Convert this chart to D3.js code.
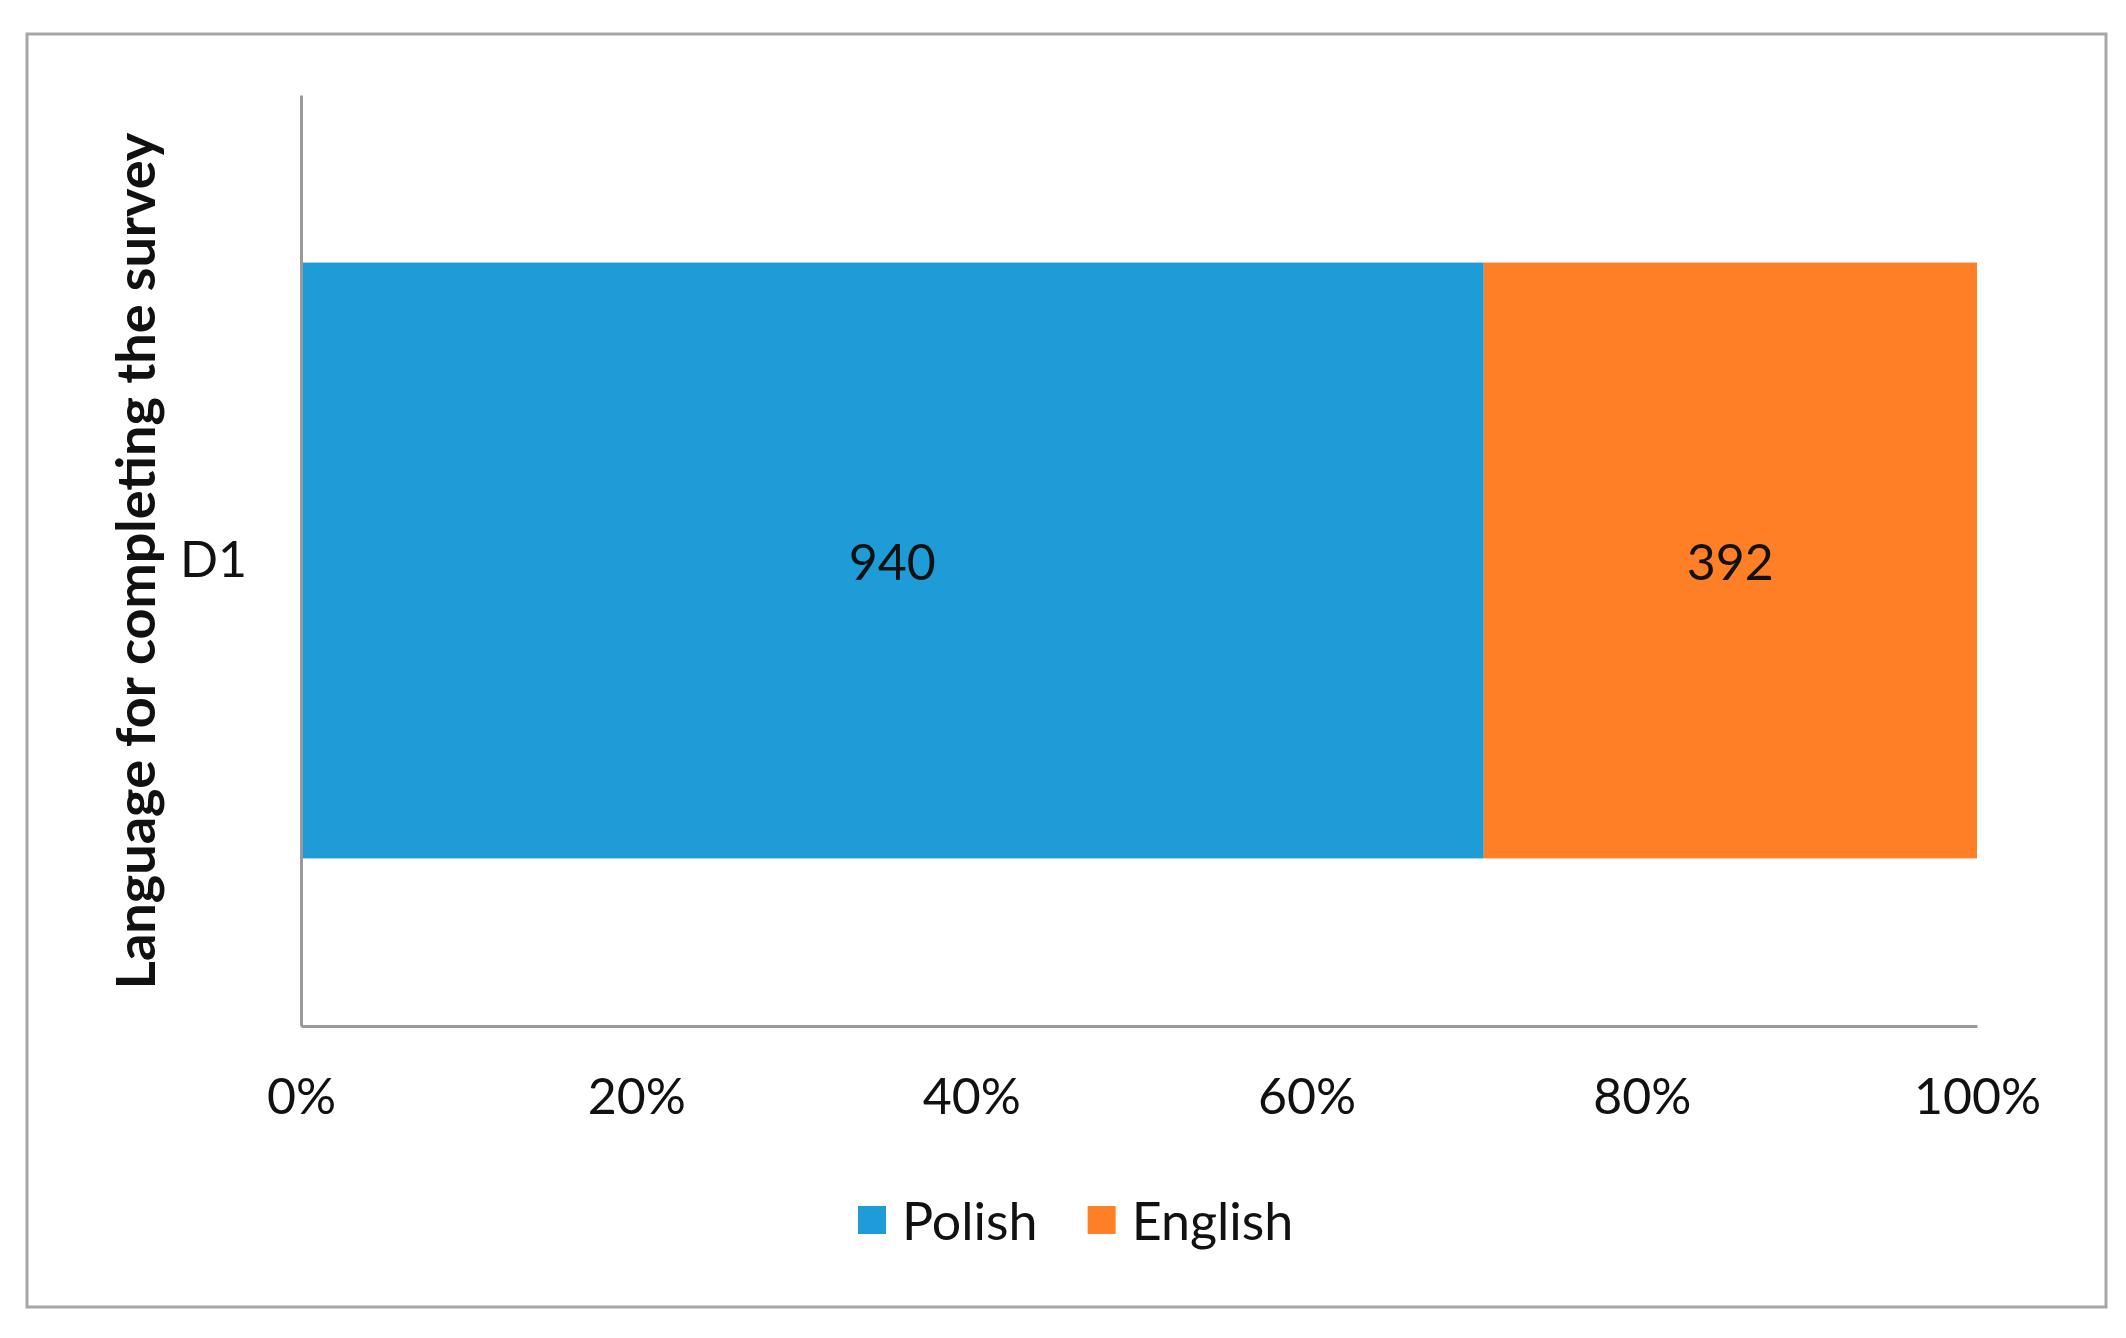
<!DOCTYPE html>
<html><head><meta charset="utf-8">
<script src="https://cdn.jsdelivr.net/npm/d3@7"></script>
<style>body{margin:0;background:#fff}</style>
</head><body>
<svg id="c" width="2126" height="1338"></svg>
<script>
const categories = ["D1"];
const seriesNames = ["Polish", "English"];
const polishValues = [940];
const englishValues = [392];
const xTickValues = [0, 0.2, 0.4, 0.6, 0.8, 1.0];
const yAxisTitle = "Language for completing the survey";
const colors = ["#1E9CD8", "#FF7F27"];

const svg = d3.select("#c");
const font = "Lato, 'Open Sans', sans-serif";

// outer border
svg.append("rect").attr("x", 27).attr("y", 34).attr("width", 2079).attr("height", 1273)
  .attr("fill", "#fff").attr("stroke", "#a6a6a6").attr("stroke-width", 3);

const m = {left: 301, right: 1977, top: 95, bottom: 1026};
const x = d3.scaleLinear().domain([0, 1]).range([m.left, m.right]);
const y = d3.scaleBand().domain(categories).range([m.top, m.bottom]).paddingInner(0.36).paddingOuter(0.18);

const rows = categories.map((c, i) => ({cat: c, vals: [polishValues[i], englishValues[i]]}));
const stackData = rows.map(r => {
  const total = d3.sum(r.vals);
  let acc = 0;
  return {cat: r.cat, segs: r.vals.map((v, k) => {const s = {k, v, x0: acc / total, x1: (acc + v) / total}; acc += v; return s;})};
});

const g = svg.append("g");
stackData.forEach(row => {
  row.segs.forEach(s => {
    g.append("rect").attr("x", x(s.x0)).attr("y", y(row.cat))
      .attr("width", x(s.x1) - x(s.x0)).attr("height", y.bandwidth())
      .attr("fill", colors[s.k]);
    g.append("text").attr("x", (x(s.x0) + x(s.x1)) / 2).attr("y", y(row.cat) + y.bandwidth() / 2)
      .attr("text-anchor", "middle").attr("dominant-baseline", "central")
      .attr("font-family", font).attr("font-size", 50).attr("fill", "#111").text(s.v);
  });
});

// axes
const xAxis = d3.axisBottom(x).tickValues(xTickValues).tickFormat(d3.format(".0%")).tickSize(0).tickPadding(52);
const xg = svg.append("g").attr("transform", `translate(0,${m.bottom})`).call(xAxis);
xg.select(".domain").attr("stroke", "#9a9a9a").attr("stroke-width", 3);
xg.selectAll("text").attr("font-family", font).attr("font-size", 50).attr("fill", "#111");

const yAxis = d3.axisLeft(y).tickSize(0).tickPadding(54);
const yg = svg.append("g").attr("transform", `translate(${m.left},0)`).call(yAxis);
yg.select(".domain").attr("stroke", "#9a9a9a").attr("stroke-width", 3);
yg.selectAll("text").attr("font-family", font).attr("font-size", 50).attr("fill", "#111");

// y-axis title
svg.append("text").attr("transform", `translate(134,561) rotate(-90)`)
  .attr("text-anchor", "middle").attr("dominant-baseline", "central")
  .attr("font-family", font).attr("font-weight", "bold").attr("font-size", 54).attr("fill", "#111")
  .text(yAxisTitle);

// legend
const leg = svg.append("g").attr("transform", "translate(858,1220)");
let lx = 0;
seriesNames.forEach((n, i) => {
  leg.append("rect").attr("x", lx).attr("y", -14).attr("width", 28).attr("height", 28).attr("fill", colors[i]);
  const t = leg.append("text").attr("x", lx + 44).attr("y", 0).attr("dominant-baseline", "central")
    .attr("font-family", font).attr("font-size", 52).attr("fill", "#111").text(n);
  lx += 44 + t.node().getComputedTextLength() + 50;
});
</script>
</body></html>
